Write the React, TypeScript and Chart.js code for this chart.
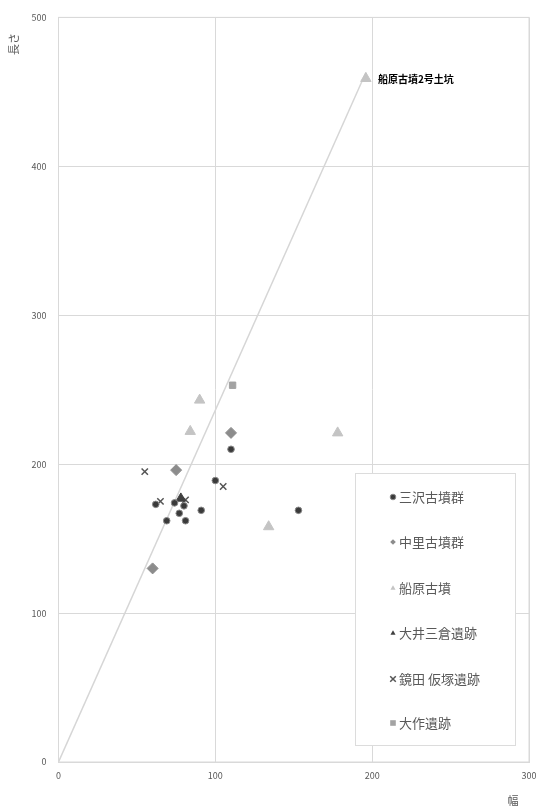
import React, { useEffect, useRef } from "react";
import { Chart, registerables } from "chart.js";

Chart.register(...registerables);

// ---- data ----
const seriesNames = ["三沢古墳群", "中里古墳群", "船原古墳", "大井三倉遺跡", "鏡田 仮塚遺跡", "大作遺跡"];
const misawa = [
  [110, 210], [100, 189], [62, 173], [74, 174], [80, 172], [77, 167], [91, 169], [69, 162], [81, 162], [153, 169],
];
const nakazato = [
  [110, 221], [75, 196], [60, 130],
];
const funabara = [
  [90, 243], [84, 222], [178, 221], [134, 158], [196, 459],
];
const oimikura = [
  [78, 177],
];
const kagamida = [
  [55, 195], [105, 185], [65, 175], [81, 176],
];
const ousaku = [
  [111, 253],
];
const trendLine = [
  [0, 0], [196, 463],
];
const annotationPoint = [196, 459];
const annotationText = "船原古墳2号土坑";
const xTicks = [0, 100, 200, 300];
const yTicks = [0, 100, 200, 300, 400, 500];
const xTitle = "幅";
const yTitle = "長さ";

const toPts = (arr: number[][]) => arr.map(([x, y]) => ({ x, y }));

const FONT = '"Noto Sans CJK JP", "Noto Sans", sans-serif';

const styles = [
  { pointStyle: "circle", radius: 3.3, bg: "#3a3a3a", border: "#8a8a8a", bw: 1 },
  { pointStyle: "rectRot", radius: 5.5, bg: "#8c8c8c", border: "#8c8c8c", bw: 1 },
  { pointStyle: "triangle", radius: 6, bg: "#c4c4c4", border: "#c4c4c4", bw: 1 },
  { pointStyle: "triangle", radius: 5.5, bg: "#3f3f3f", border: "#3f3f3f", bw: 1 },
  { pointStyle: "crossRot", radius: 4.5, bg: "#555555", border: "#555555", bw: 1.5 },
  { pointStyle: "rect", radius: 4.5, bg: "#a3a3a3", border: "#a3a3a3", bw: 1 },
];

function drawMarker(ctx: CanvasRenderingContext2D, style: string, x: number, y: number, r: number) {
  ctx.beginPath();
  if (style === "circle") {
    ctx.arc(x, y, r, 0, Math.PI * 2);
    ctx.fill();
    ctx.stroke();
  } else if (style === "rectRot") {
    ctx.moveTo(x, y - r);
    ctx.lineTo(x + r, y);
    ctx.lineTo(x, y + r);
    ctx.lineTo(x - r, y);
    ctx.closePath();
    ctx.fill();
  } else if (style === "triangle") {
    ctx.moveTo(x, y - r);
    ctx.lineTo(x + r * 0.9, y + r * 0.6);
    ctx.lineTo(x - r * 0.9, y + r * 0.6);
    ctx.closePath();
    ctx.fill();
  } else if (style === "crossRot") {
    ctx.moveTo(x - r, y - r);
    ctx.lineTo(x + r, y + r);
    ctx.moveTo(x + r, y - r);
    ctx.lineTo(x - r, y + r);
    ctx.stroke();
  } else {
    ctx.rect(x - r, y - r, 2 * r, 2 * r);
    ctx.fill();
  }
}

export default function App() {
  const ref = useRef<HTMLCanvasElement | null>(null);

  useEffect(() => {
    document.body.style.margin = "0";
    const canvas = ref.current;
    if (!canvas) return;

    const allSeries = [misawa, nakazato, funabara, oimikura, kagamida, ousaku];

    const datasets: any[] = [
      {
        label: "trend",
        data: toPts(trendLine),
        showLine: true,
        borderColor: "#d6d6d6",
        borderWidth: 1.5,
        pointRadius: 0,
        order: 10,
      },
      ...allSeries.map((s, i) => ({
        label: seriesNames[i],
        data: toPts(s),
        pointStyle: styles[i].pointStyle,
        pointRadius: styles[i].radius,
        backgroundColor: styles[i].bg,
        borderColor: styles[i].border,
        borderWidth: styles[i].bw,
        order: i,
      })),
    ];

    const overlay = {
      id: "overlay",
      afterDraw(chart: any) {
        const ctx = chart.ctx as CanvasRenderingContext2D;
        const ca = chart.chartArea;
        const xs = chart.scales.x;
        const ys = chart.scales.y;
        ctx.save();
        // plot border
        ctx.strokeStyle = "#d9d9d9";
        ctx.lineWidth = 1;
        ctx.strokeRect(ca.left, ca.top, ca.right - ca.left, ca.bottom - ca.top);

        // annotation
        ctx.fillStyle = "#000";
        ctx.font = `bold 10px ${FONT}`;
        ctx.textAlign = "left";
        ctx.textBaseline = "middle";
        ctx.fillText(annotationText, xs.getPixelForValue(annotationPoint[0]) + 12, ys.getPixelForValue(annotationPoint[1]) + 1);

        // axis titles
        ctx.fillStyle = "#595959";
        ctx.font = `11px ${FONT}`;
        ctx.textAlign = "center";
        ctx.textBaseline = "middle";
        ctx.fillText(xTitle, 513, 801);
        ctx.save();
        ctx.translate(14, 44);
        ctx.rotate(-Math.PI / 2);
        ctx.fillText(yTitle, 0, 0);
        ctx.restore();

        // legend
        const lx = 355.5, ly = 473.5, lw = 160, lh = 272;
        ctx.fillStyle = "#ffffff";
        ctx.fillRect(lx, ly, lw, lh);
        ctx.strokeStyle = "#dcdcdc";
        ctx.lineWidth = 1;
        ctx.strokeRect(lx, ly, lw, lh);
        const rowY = [497, 542, 588, 633, 679, 723];
        seriesNames.forEach((name, i) => {
          const st = styles[i];
          ctx.fillStyle = st.bg;
          ctx.strokeStyle = st.border;
          ctx.lineWidth = st.bw;
          drawMarker(ctx, st.pointStyle, 393, rowY[i], 2.8);
          ctx.fillStyle = "#595959";
          ctx.font = `13px ${FONT}`;
          ctx.textAlign = "left";
          ctx.textBaseline = "middle";
          ctx.fillText(name, 399, rowY[i]);
        });
        ctx.restore();
      },
    };

    const chart = new Chart(canvas, {
      type: "scatter",
      data: { datasets },
      options: {
        animation: false,
        responsive: false,
        maintainAspectRatio: false,
        layout: { padding: { top: 6, right: 0, left: 0, bottom: 0 } },
        plugins: {
          legend: { display: false },
          tooltip: { enabled: false },
        },
        scales: {
          x: {
            type: "linear",
            min: 0,
            max: 300,
            afterBuildTicks: (scale: any) => {
              scale.ticks = xTicks.map((v) => ({ value: v }));
            },
            afterFit: (scale: any) => {
              scale.height = 45;
              scale.paddingRight = 9;
            },
            ticks: { color: "#595959", font: { size: 9, family: FONT }, padding: 8 },
            grid: { color: "#d9d9d9", drawTicks: false },
            border: { color: "#d9d9d9" },
          },
          y: {
            type: "linear",
            min: 0,
            max: 500,
            afterBuildTicks: (scale: any) => {
              scale.ticks = yTicks.map((v) => ({ value: v }));
            },
            afterFit: (scale: any) => {
              scale.width = 58.5;
            },
            ticks: { color: "#595959", font: { size: 9, family: FONT }, padding: 12 },
            grid: { color: "#d9d9d9", drawTicks: false },
            border: { color: "#d9d9d9" },
          },
        },
      },
      plugins: [overlay],
    });

    return () => chart.destroy();
  }, []);

  return (
    <div style={{ width: 538, height: 807 }}>
      <canvas ref={ref} width={538} height={807} style={{ display: "block" }} />
    </div>
  );
}
